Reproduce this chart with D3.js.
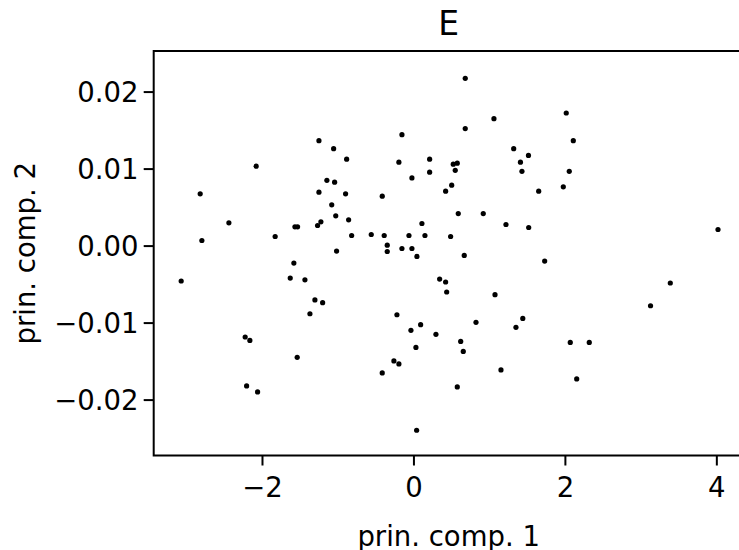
<!DOCTYPE html>
<html>
<head>
<meta charset="utf-8">
<script src="https://cdn.jsdelivr.net/npm/d3@7"></script>
<style>
  body { margin: 0; background: #fff; }
  text { font-family: "DejaVu Sans", sans-serif; fill: #000; }
</style>
</head>
<body>
<div id="scatter-e"></div>
<script>
// Scores on the first two principal components, panel "E"
const pc1 = [
  -1.248, -1.054, -2.077, -1.143, 0.684, 1.063, 0.684, -0.152, -0.882, -0.192,
  0.214, 0.214, 0.526, 0.579, 0.552, -0.020, 1.324, 1.413, 1.519, 1.433,
  2.018, 2.111, 2.058, -2.816, -2.437, -2.794, -3.067, -1.826, -1.041, -1.248,
  -1.079, -1.026, -1.222, -1.266, -1.565, -1.530, -1.015, -1.579, -1.627, -1.433,
  -1.301, -1.199, -0.896, -0.856, -0.816, -0.557, -0.412, -0.386, -0.346, -0.346,
  -0.152, -0.059, -0.020, 0.046, 0.112, 0.152, 0.425, 0.505, 0.592, 0.922,
  0.491, 0.671, 0.346, 0.425, 0.439, 1.077, 1.222, 1.522, 1.654, 1.979,
  1.733, 4.022, 3.392, 3.131, -1.367, -2.222, -2.160, -1.535, -2.203, -2.058,
  -0.218, -0.033, 0.095, 0.297, 0.033, -0.258, -0.192, -0.412, 0.826, 0.624,
  0.658, 0.579, 1.156, 1.354, 1.444, 0.042, 2.071, 2.322, 2.156
];
const pc2 = [
  0.01363, 0.01259, 0.01031, 0.00847, 0.02172, 0.01648, 0.01519, 0.01441, 0.01122, 0.01083,
  0.01122, 0.00953, 0.01057, 0.01070, 0.00977, 0.00879, 0.01259, 0.01083, 0.01171, 0.00964,
  0.01722, 0.01363, 0.00964, 0.00672, 0.00296, 0.00066, -0.00460, 0.00118, 0.00824, 0.00694,
  0.00529, 0.00387, 0.00309, 0.00261, 0.00244, 0.00244, -0.00071, -0.00227, -0.00422, -0.00444,
  -0.00706, -0.00742, 0.00672, 0.00335, 0.00131, 0.00144, 0.00642, 0.00131, 0.00006, -0.00077,
  -0.00038, 0.00131, -0.00038, -0.00141, 0.00287, 0.00131, 0.00707, 0.00785, 0.00416, 0.00416,
  0.00118, -0.00128, -0.00435, -0.00473, -0.00603, -0.00638, 0.00274, 0.00235, 0.00707, 0.00763,
  -0.00201, 0.00209, -0.00486, -0.00781, -0.00885, -0.01187, -0.01231, -0.01451, -0.01822, -0.01900,
  -0.00898, -0.01101, -0.01027, -0.01153, -0.01322, -0.01498, -0.01537, -0.01654, -0.00997, -0.01244,
  -0.01374, -0.01835, -0.01615, -0.01062, -0.00946, -0.02398, -0.01257, -0.01257, -0.01732
];
const xTicks = [-2, 0, 2, 4];
const yTicks = [-0.02, -0.01, 0.00, 0.01, 0.02];
const title = "E";
const xLabel = "prin. comp. 1";
const yLabel = "prin. comp. 2";

(function() {
    const W = 739, H = 550;
    const left = 153.7, right = 743.6, top = 51, bottom = 455.5;
    const fs = 27.5;

    const svg = d3.select("#scatter-e")
        .append("svg")
        .attr("width", W)
        .attr("height", H);

    const points = pc1.map((v, i) => ({x: v, y: pc2[i]}));

    // scales (axes run a bit past the data, right edge falls off the canvas)
    const x = d3.scaleLinear()
        .domain([-3.43, 4.36])
        .range([left, right]);

    const y = d3.scaleLinear()
        .domain([-0.02726, 0.02527])
        .range([bottom, top]);

    const minus = s => s.replace("-", "\u2212");

    // X axis
    const gx = svg.append("g")
        .attr("transform", `translate(0,${bottom})`)
        .call(d3.axisBottom(x).tickValues(xTicks).tickSize(10).tickFormat(d => minus(d3.format("d")(d))));
    gx.select(".domain").remove();
    gx.selectAll(".tick line").attr("stroke", "#000").attr("stroke-width", 2);
    gx.selectAll(".tick text")
        .attr("y", 41.5).attr("dy", null)
        .style("font-size", fs + "px")
        .style("font-family", "DejaVu Sans");

    // Y axis
    const gy = svg.append("g")
        .attr("transform", `translate(${left},0)`)
        .call(d3.axisLeft(y).tickValues(yTicks).tickSize(10).tickPadding(5.2).tickFormat(d => minus(d3.format(".2f")(d))));
    gy.select(".domain").remove();
    gy.selectAll(".tick line").attr("stroke", "#000").attr("stroke-width", 2);
    gy.selectAll(".tick text")
        .attr("dy", "0.36em")
        .style("font-size", fs + "px")
        .style("font-family", "DejaVu Sans");

    // frame
    svg.append("rect")
        .attr("x", left)
        .attr("y", top)
        .attr("width", right - left)
        .attr("height", bottom - top)
        .attr("fill", "none")
        .attr("stroke", "#000")
        .attr("stroke-width", 2);

    // points
    svg.append("g")
        .selectAll("circle")
        .data(points)
        .enter()
        .append("circle")
        .attr("cx", d => x(d.x))
        .attr("cy", d => y(d.y))
        .attr("r", 2.6)
        .attr("fill", "#000");

    // Title and axis labels
    svg.append("text")
        .attr("x", (left + right) / 2)
        .attr("y", 35)
        .attr("text-anchor", "middle")
        .style("font-size", "33px")
        .text(title);

    svg.append("text")
        .attr("x", (left + right) / 2)
        .attr("y", 545.5)
        .attr("text-anchor", "middle")
        .style("font-size", fs + "px")
        .text(xLabel);

    svg.append("text")
        .attr("transform", "rotate(-90)")
        .attr("x", -(top + bottom) / 2)
        .attr("y", 35)
        .attr("text-anchor", "middle")
        .style("font-size", fs + "px")
        .text(yLabel);
})();
</script>
</body>
</html>
